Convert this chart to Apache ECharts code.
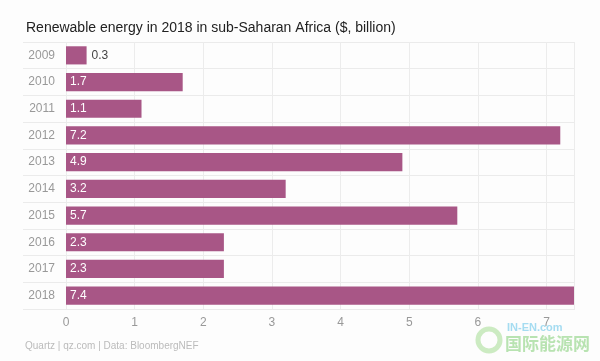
<!DOCTYPE html>
<html><head><meta charset="utf-8">
<script src="https://cdn.jsdelivr.net/npm/echarts@6/dist/echarts.min.js"></script>
<style>html,body{margin:0;padding:0;background:#fff}#c{width:600px;height:361px}</style>
</head><body><div id="c"></div>
<script>
const years = ['2009','2010','2011','2012','2013','2014','2015','2016','2017','2018'];
const values = [0.3, 1.7, 1.1, 7.2, 4.9, 3.2, 5.7, 2.3, 2.3, 7.4];
const xTicks = [0,1,2,3,4,5,6,7];
const titleText = 'Renewable energy in 2018 in sub-Saharan Africa ($, billion)';
const footerText = 'Quartz | qz.com | Data: BloombergNEF';

const font = 'Helvetica, "Liberation Sans", Arial, sans-serif';
const chart = echarts.init(document.getElementById('c'), null, {renderer:'canvas'});
chart.setOption({
  backgroundColor: '#fdfdfd',
  animation: false,
  title: {text: titleText, left: 21, top: 16,
    textStyle: {fontFamily: font, fontSize: 14, fontWeight: 'normal', color: '#222'}},
  grid: [
    {left: 66, right: 26, top: 42, height: 267},
    {left: 23, right: 25, top: 42, height: 267}
  ],
  xAxis: [
    {gridIndex: 0, type: 'value', min: 0, max: 7.4, interval: 1,
     axisLine: {show: false}, axisTick: {show: false},
     axisLabel: {color: '#999', fontSize: 12, fontFamily: font, margin: 8,
       formatter: v => xTicks.includes(v) ? String(v) : ''},
     splitLine: {show: true, lineStyle: {color: '#ececec', width: 1}}},
    {gridIndex: 1, type: 'value', show: false}
  ],
  yAxis: [
    {gridIndex: 0, type: 'category', data: years, inverse: true,
     axisLine: {show: false}, axisTick: {show: false},
     axisLabel: {color: '#999', fontSize: 12, fontFamily: font, margin: 11}},
    {gridIndex: 1, type: 'category', data: years, inverse: true,
     axisLine: {show: false}, axisTick: {show: false}, axisLabel: {show: false},
     splitLine: {show: true, lineStyle: {color: '#ebebeb', width: 1}}}
  ],
  series: [{
    type: 'bar', xAxisIndex: 0, yAxisIndex: 0,
    data: values.map(v => ({value: v, label: v < 0.6 ? {position: 'right', color: '#444', distance: 5} : {}})),
    barCategoryGap: '32%',
    itemStyle: {color: '#a85686'},
    label: {show: true, position: 'insideLeft', distance: 4, color: '#fff',
      fontSize: 12, fontFamily: font}
  }],
  graphic: [
    {type: 'text', left: 25, top: 341,
     style: {text: footerText, fill: '#bbb', fontSize: 10, fontFamily: font}},
    {type: 'text', left: 507, top: 322,
     style: {text: 'IN-EN.com', fill: '#8fd3ee', fontSize: 11, fontWeight: 'bold', fontFamily: font, opacity: 0.8}},
    {type: 'text', left: 505, top: 335,
     style: {text: '国际能源网', fill: '#a6dc9e', fontSize: 17, fontWeight: 'bold', fontFamily: '"Noto Sans CJK SC", sans-serif', opacity: 0.8}},
    {type: 'circle', shape: {cx: 489, cy: 340, r: 11},
     style: {fill: 'none', stroke: '#b6e3a8', lineWidth: 5, opacity: 0.7}}
  ]
});
</script></body></html>
